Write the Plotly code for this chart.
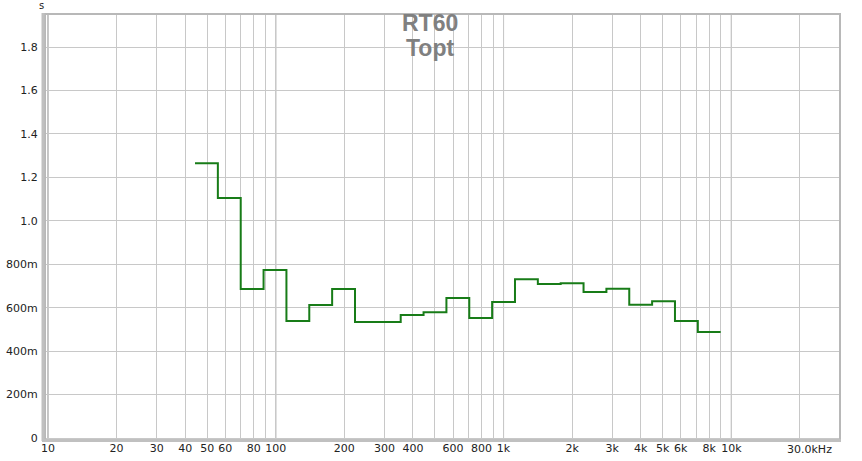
import plotly.graph_objects as go
import math

# 1/3-octave band centres (Hz) and RT60 Topt (s)
band_centres = [50, 63, 80, 100, 125, 160, 200, 250, 315, 400, 500, 630, 800,
                1000, 1250, 1600, 2000, 2500, 3150, 4000, 5000, 6300, 8000]
rt60 = [1.265, 1.105, 0.686, 0.773, 0.539, 0.612, 0.686, 0.534, 0.534, 0.566,
        0.579, 0.645, 0.552, 0.626, 0.731, 0.709, 0.712, 0.672, 0.687, 0.614,
        0.629, 0.539, 0.488]

x_grid = [10, 20, 30, 40, 50, 60, 70, 80, 90,
          100, 200, 300, 400, 500, 600, 700, 800, 900,
          1000, 2000, 3000, 4000, 5000, 6000, 7000, 8000, 9000,
          10000, 20000]
x_text = ["10", "20", "30", "40", "50", "60", "", "80", "",
          "100", "200", "300", "400", "", "600", "", "800", "",
          "1k", "2k", "3k", "4k", "5k", "6k", "", "8k", "",
          "10k", ""]
end_label = "30.0kHz"
decades = [10, 100, 1000, 10000]

y_ticks = [0, 0.2, 0.4, 0.6, 0.8, 1.0, 1.2, 1.4, 1.6, 1.8]
y_text = ["0", "200m", "400m", "600m", "800m", "1.0", "1.2", "1.4", "1.6", "1.8"]

# exact band centres -> band edges for step drawing
exact = [1000 * 2 ** (round(3 * math.log2(f / 1000)) / 3) for f in band_centres]
xs = [f * 2 ** (-1 / 6) for f in exact] + [exact[-1] * 2 ** (1 / 6)]
ys = rt60 + [rt60[-1]]

W, H = 862, 461
L, R, T, B = 45, 22, 14, 21
plot_w = W - L - R
plot_h = H - T - B
def px(x):
    return (x - L) / plot_w
def py(y):
    return 1 - (y - T) / plot_h

fig = go.Figure()
fig.add_trace(go.Scatter(x=xs, y=ys, mode="lines", line_shape="hv",
                         line=dict(color="#187c18", width=2), hoverinfo="skip"))

shapes = []
for d in decades:
    shapes.append(dict(type="line", xref="x", yref="paper", x0=d, x1=d, y0=0, y1=1,
                       line=dict(color="#8a8a8a", width=1), layer="between"))
# frame
shapes.append(dict(type="rect", xref="paper", yref="paper", x0=0, x1=1, y0=0, y1=1,
                   line=dict(color="#b8b8b8", width=2), layer="above"))
shapes.append(dict(type="line", xref="paper", yref="paper", x0=px(43), x1=px(43), y0=py(441), y1=py(13),
                   line=dict(color="#c0c0c0", width=3), layer="above"))
shapes.append(dict(type="line", xref="paper", yref="paper", x0=px(42), x1=px(841), y0=py(440.5), y1=py(440.5),
                   line=dict(color="#c0c0c0", width=3), layer="above"))

fig.update_layout(
    width=W, height=H,
    margin=dict(l=L, r=R, t=T, b=B),
    paper_bgcolor="white", plot_bgcolor="white",
    showlegend=False,
    font=dict(family="DejaVu Sans", size=11, color="#222222"),
    shapes=shapes,
    xaxis=dict(type="log", range=[math.log10(9.7), math.log10(30000)],
               tickvals=x_grid, ticktext=x_text, tickangle=0,
               showgrid=True, gridcolor="#c8c8c8", gridwidth=1,
               zeroline=False, showline=False, ticks="", automargin=False,
               tickfont=dict(size=11, color="#222222")),
    yaxis=dict(range=[-0.0092, 1.952], tickvals=y_ticks, ticktext=y_text,
               showgrid=True, gridcolor="#c8c8c8", gridwidth=1,
               zeroline=False, showline=False, ticks="outside", ticklen=4,
               tickcolor="rgba(0,0,0,0)", automargin=False,
               tickfont=dict(size=11, color="#222222")),
)
fig.add_annotation(text="<b>RT60</b>", x=px(430), y=py(38), xref="paper", yref="paper",
                   yanchor="bottom", showarrow=False,
                   font=dict(family="Liberation Sans", size=23, color="#808080"))
fig.add_annotation(text="<b>Topt</b>", x=px(430), y=py(33), xref="paper", yref="paper",
                   yanchor="top", showarrow=False,
                   font=dict(family="Liberation Sans", size=23, color="#808080"))
fig.add_annotation(text="s", x=px(37), y=py(6), xref="paper", yref="paper",
                   yanchor="middle", showarrow=False, font=dict(size=10, color="#222222"))
fig.add_annotation(text=end_label, x=px(834), y=py(449), xref="paper", yref="paper",
                   yanchor="middle", showarrow=False, font=dict(size=11, color="#222222"))

fig.write_html("out.html", config={"displayModeBar": False},
               post_script="document.body.style.margin='0';document.body.style.overflow='hidden';")
